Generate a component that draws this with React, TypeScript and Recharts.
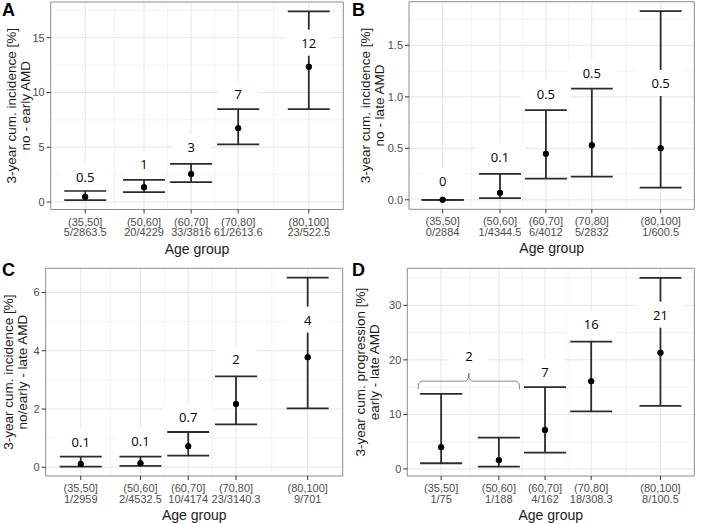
import { ScatterChart, Scatter, XAxis, YAxis, CartesianGrid, ErrorBar, ReferenceArea } from 'recharts';

// age groups, shared by all four panels
const ageGroups = ['(35,50]', '(50,60]', '(60,70]', '(70,80]', '(80,100]'];
const ageMid = [42.5, 55, 65, 75, 90];
const ageMinor = [48.75, 60, 70, 82.5];

// A: no -> early AMD
const aEst = [0.49, 1.36, 2.55, 6.73, 12.36];
const aLo = [0.18, 0.91, 1.82, 5.27, 8.48];
const aHi = [1.03, 2.03, 3.49, 8.48, 17.4];
const aCounts = ['5/2863.5', '20/4229', '33/3816', '61/2613.6', '23/522.5'];
const aLabels = ['0.5', '1', '3', '7', '12'];
const aLabelY = [2.27, 3.49, 5.04, 9.82, 14.55];

// B: no -> late AMD
const bEst = [0, 0.068, 0.448, 0.529, 0.5];
const bLo = [0, 0.016, 0.206, 0.226, 0.119];
const bHi = [0, 0.252, 0.871, 1.08, 1.832];
const bCounts = ['0/2884', '1/4344.5', '6/4012', '5/2832', '1/600.5'];
const bLabels = ['0', '0.1', '0.5', '0.5', '0.5'];
const bLabelY = [0.18, 0.42, 1.03, 1.235, 1.135];

// C: no/early -> late AMD
const cEst = [0.113, 0.137, 0.72, 2.17, 3.78];
const cLo = [0.02, 0.045, 0.4, 1.47, 2.02];
const cHi = [0.365, 0.365, 1.21, 3.12, 6.51];
const cCounts = ['1/2959', '2/4532.5', '10/4174', '23/3140.3', '9/701'];
const cLabels = ['0.1', '0.1', '0.7', '2', '4'];
const cLabelY = [0.88, 0.9, 1.73, 3.71, 5.07];

// D: early -> late AMD (first two groups pooled)
const dEst = [3.97, 1.59, 7.13, 16.1, 21.3];
const dLo = [1.04, 0.43, 2.99, 10.55, 11.58];
const dHi = [13.78, 5.73, 15.0, 23.35, 35.06];
const dCounts = ['1/75', '1/188', '4/162', '18/308.3', '8/100.5'];
const dLabels = ['2', '7', '16', '21'];
const dLabelX = [48.5, 65, 75, 90];
const dLabelY = [20.7, 17.8, 26.5, 28.3];
const braceX = [37.5, 37.6, 38.1, 47.9, 48.4, 48.5, 48.6, 49.1, 58.9, 59.4, 59.5];
const braceY = [14.6, 15.6, 16.1, 16.1, 16.6, 17.6, 16.6, 16.1, 16.1, 15.6, 14.6];

const xDomain = [35.17, 97.33];
const FONT = '"Liberation Sans", Arial, sans-serif';

const panels = [
  {
    letter: 'A', left: 0, top: 0, h: 262,
    plot: { l: 50.7, r: 343.3, t: 2, b: 209.5 },
    est: aEst, lo: aLo, hi: aHi, counts: aCounts,
    labels: aLabels, labelX: ageMid, labelY: aLabelY,
    yDomain: [-0.68, 18.26], yTicks: [0, 5, 10, 15], yMinor: [2.5, 7.5, 12.5, 17.5], dec: 0,
    title: ['3-year cum. incidence [%]', 'no - early AMD'], titleX: [11, 25],
  },
  {
    letter: 'B', left: 350, top: 0, h: 262,
    plot: { l: 59, r: 344.3, t: 1.7, b: 209.3 },
    est: bEst, lo: bLo, hi: bHi, counts: bCounts,
    labels: bLabels, labelX: ageMid, labelY: bLabelY,
    yDomain: [-0.092, 1.924], yTicks: [0, 0.5, 1, 1.5], yMinor: [0.25, 0.75, 1.25, 1.75], dec: 1,
    title: ['3-year cum. incidence [%]', 'no - late AMD'], titleX: [15.5, 29.5],
  },
  {
    letter: 'C', left: 0, top: 260, h: 263,
    plot: { l: 45.7, r: 342.7, t: 8.3, b: 216 },
    est: cEst, lo: cLo, hi: cHi, counts: cCounts,
    labels: cLabels, labelX: ageMid, labelY: cLabelY,
    yDomain: [-0.3, 6.83], yTicks: [0, 2, 4, 6], yMinor: [1, 3, 5], dec: 0,
    title: ['3-year cum. incidence [%]', 'no/early - late AMD'], titleX: [8, 22],
  },
  {
    letter: 'D', left: 350, top: 260, h: 263,
    plot: { l: 57.3, r: 344.3, t: 8.3, b: 216 },
    est: dEst, lo: dLo, hi: dHi, counts: dCounts,
    labels: dLabels, labelX: dLabelX, labelY: dLabelY,
    yDomain: [-1.3, 36.8], yTicks: [0, 10, 20, 30], yMinor: [5, 15, 25, 35], dec: 0,
    title: ['3-year cum. progression [%]', 'early - late AMD'], titleX: [10.5, 24.5],
    brace: true,
  },
];

const XTick = (props: any) => {
  const { x, y, payload, counts } = props;
  const i = ageMid.indexOf(payload.value);
  return (
    <g>
      <text x={x} y={y + 10} textAnchor="middle" fontSize={11} fill="#4d4d4d" fontFamily={FONT}>{ageGroups[i]}</text>
      <text x={x} y={y + 20.7} textAnchor="middle" fontSize={11} fill="#4d4d4d" fontFamily={FONT}>{counts[i]}</text>
    </g>
  );
};

const Dot = (props: any) => <circle cx={props.cx} cy={props.cy} r={3} fill="#000" />;

const LabelBox = (props: any) => {
  const { cx, cy, payload } = props;
  const t: string = payload.text;
  const tw = t.split('').reduce((s, ch) => s + (ch === '.' ? 3.4 : 7.4), 0);
  const w = tw + 32;
  return (
    <g>
      <rect x={cx - w / 2} y={cy - 13} width={w} height={26} fill="#fff" />
      <text x={cx} y={cy} textAnchor="middle" dominantBaseline="central" fontSize={13} fill="#000" fontFamily='"Open Sans", sans-serif'>{t}</text>
    </g>
  );
};

const NoDot = () => <g />;

function Panel({ p }: { p: any }) {
  const pts = ageMid.map((x, i) => ({ x, y: p.est[i], err: [p.est[i] - p.lo[i], p.hi[i] - p.est[i]] }));
  const lbl = p.labels.map((t: string, i: number) => ({ x: p.labelX[i], y: p.labelY[i], text: t }));
  const brace = braceX.map((x, i) => ({ x, y: braceY[i] }));
  const axisH = 45;
  const yTitle = (lp: any) => {
    const vb = lp.viewBox;
    const cy = vb.y + vb.height / 2;
    return (
      <g>
        {p.title.map((t: string, i: number) => (
          <text key={i} transform={`translate(${vb.x + p.titleX[i]},${cy}) rotate(-90)`} textAnchor="middle"
            dominantBaseline="central" fontSize={13.5} fill="#1a1a1a" fontFamily={FONT}>{t}</text>
        ))}
      </g>
    );
  };
  const xTitle = (lp: any) => {
    const vb = lp.viewBox;
    return (
      <text x={vb.x + vb.width / 2} y={vb.y + 39} textAnchor="middle" dominantBaseline="central"
        fontSize={14} fill="#1a1a1a" fontFamily={FONT}>Age group</text>
    );
  };
  return (
    <div style={{ position: 'absolute', left: p.left, top: p.top, width: 350, height: p.h }}>
      <ScatterChart width={350} height={p.h}
        margin={{ top: p.plot.t, right: 350 - p.plot.r, bottom: p.h - p.plot.b - axisH, left: 0 }}>
        <CartesianGrid horizontalValues={p.yMinor} verticalValues={ageMinor} stroke="#f0f0f0" strokeWidth={0.8} />
        <CartesianGrid horizontalValues={p.yTicks} verticalValues={ageMid} stroke="#e6e6e6" strokeWidth={1} />
        <XAxis type="number" dataKey="x" domain={xDomain} ticks={ageMid} allowDataOverflow interval={0}
          axisLine={false} tickSize={4} tickLine={{ stroke: '#333' }} height={axisH}
          tick={<XTick counts={p.counts} />} label={{ content: xTitle }} />
        <YAxis type="number" dataKey="y" domain={p.yDomain} ticks={p.yTicks} allowDataOverflow width={p.plot.l}
          axisLine={false} tickSize={4} tickLine={{ stroke: '#333' }}
          tickFormatter={(v: number) => v.toFixed(p.dec)}
          tick={{ fill: '#4d4d4d', fontSize: 11, fontFamily: FONT }} label={{ content: yTitle }} />
        <ReferenceArea x1={xDomain[0]} x2={xDomain[1]} y1={p.yDomain[0]} y2={p.yDomain[1]}
          fill="none" stroke="#8c8c8c" strokeWidth={1} ifOverflow="visible" />
        {p.brace && (
          <Scatter data={brace} line={{ stroke: '#8a8a8a', strokeWidth: 1 }} shape={NoDot} isAnimationActive={false} />
        )}
        <Scatter data={pts} shape={Dot} isAnimationActive={false}>
          <ErrorBar dataKey="err" direction="y" width={21} stroke="#2b2b2b" strokeWidth={1.8} isAnimationActive={false} />
        </Scatter>
        <Scatter data={lbl} shape={LabelBox} isAnimationActive={false} />
        <Scatter data={pts} shape={Dot} isAnimationActive={false} />
      </ScatterChart>
      <span style={{ position: 'absolute', left: 2, top: 1, fontSize: 18, lineHeight: 1, fontWeight: 700, fontFamily: FONT, color: '#000' }}>
        {p.letter}
      </span>
    </div>
  );
}

export default function App() {
  return (
    <div style={{ position: 'absolute', left: 0, top: 0, width: 701, height: 523, background: '#fff' }}>
      {panels.map((p) => <Panel key={p.letter} p={p} />)}
    </div>
  );
}
